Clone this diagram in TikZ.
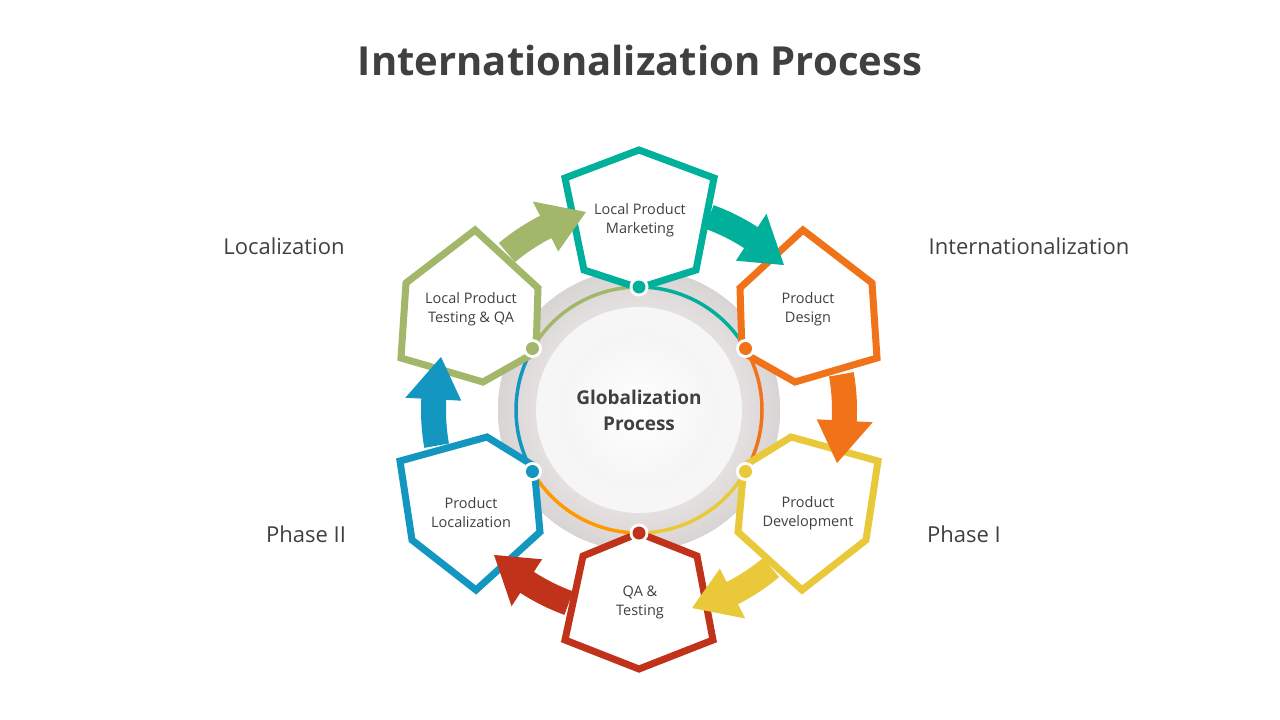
\documentclass[tikz,border=0pt]{standalone}
\usepackage{fontspec}
\setmainfont{Open Sans}
\usetikzlibrary{calc}
\definecolor{cteal}{HTML}{00B09B}
\definecolor{corange}{HTML}{F07319}
\definecolor{cyellow}{HTML}{E9C93A}
\definecolor{cred}{HTML}{C0321A}
\definecolor{cblue}{HTML}{1396BF}
\definecolor{cgreen}{HTML}{A2B76A}
\definecolor{carc}{HTML}{FF9900}
\definecolor{ctext}{HTML}{404040}
\definecolor{cdisk}{HTML}{D3CDCD}
\newcommand\cyclearrow[3]{%
  \fill[#1] (#2:193) arc[start angle=#2,end angle=#3-12,radius=193] -- (#3-12:178) -- (#3:205) -- (#3-12:234) -- (#3-12:218) arc[start angle=#3-12,end angle=#2,radius=218] -- cycle;}
\begin{document}
\begin{tikzpicture}[x=1pt,y=-1pt,
  hexa/.style={line width=7pt,line join=miter},
  lbl/.style={text=ctext,font=\fontsize{14.5}{19}\selectfont,align=center},
  side/.style={text=ctext,font=\fontsize{22}{26}\selectfont}]
\useasboundingbox (0,0) rectangle (1280,720);
\node[font=\bfseries\fontsize{40}{46}\selectfont,text=ctext] (title) at (640,60) {Internationalization Process};
% centre
\coordinate (C) at (639,410);
\fill[cdisk] (C) circle (141);
\shade[inner color=white,outer color=cdisk!85] (C) circle (141);
\fill[white!93!gray] (C) circle (103);
\shade[inner color=white,outer color=white!92!gray] (C) circle (78);
\begin{scope}[shift={(639,410)},line width=3.5pt]
\draw[cteal] (-90:123) arc[start angle=-90,end angle=-30,radius=123];
\draw[corange] (-30:123) arc[start angle=-30,end angle=30,radius=123];
\draw[cyellow] (30:123) arc[start angle=30,end angle=90,radius=123];
\draw[carc] (90:123) arc[start angle=90,end angle=150,radius=123];
\draw[cblue] (150:123) arc[start angle=150,end angle=210,radius=123];
\draw[cgreen] (210:123) arc[start angle=210,end angle=270,radius=123];
\end{scope}
% hexagons
\filldraw[hexa,draw=cteal,fill=white] (639,150)--(714,178)--(696,270)--(639,288)--(584,270)--(565,178)--cycle;
\filldraw[hexa,draw=corange,fill=white] (803,230)--(872,283)--(877,358)--(795,382)--(742,352)--(740,288)--cycle;
\filldraw[hexa,draw=cgreen,fill=white] (475,230)--(538,288)--(536,352)--(483,382)--(401,358)--(406,283)--cycle;
\filldraw[hexa,draw=cblue,fill=white] (487,437)--(534,466)--(540,532)--(476,590)--(412,540)--(400,461)--cycle;
\filldraw[hexa,draw=cyellow,fill=white] (791,437)--(744,466)--(738,532)--(802,590)--(866,540)--(878,461)--cycle;
\filldraw[hexa,draw=cred,fill=white] (639,533)--(697,556)--(713,640)--(639,669)--(565,640)--(583,556)--cycle;
% arrows
\begin{scope}[shift={(639,410)}]
\cyclearrow{cteal}{-70}{-45}
\cyclearrow{corange}{-10}{15}
\cyclearrow{cyellow}{50}{75}
\cyclearrow{cred}{110}{135}
\cyclearrow{cblue}{170}{195}
\cyclearrow{cgreen}{230}{255}
\end{scope}
% dots
\foreach \a/\col in {-90/cteal,-30/corange,30/cyellow,90/cred,150/cblue,210/cgreen}{
  \fill[white] ($(C)+(\a:123)$) circle (9.5);
  \fill[color=\col] ($(C)+(\a:123)$) circle (6.5);}
% labels
\node[font=\bfseries\fontsize{19}{26}\selectfont,text=ctext,align=center] (g) at (C) {Globalization\\Process};
\node[lbl] (n1) at (640,220) {Local Product\\Marketing};
\node[lbl] (n2) at (808,309) {Product\\Design};
\node[lbl] (n3) at (808,513) {Product\\Development};
\node[lbl] (n4) at (640,602) {QA \&\\Testing};
\node[lbl] (n5) at (471,513) {Product\\Localization};
\node[lbl] (n6) at (471,309) {Local Product\\Testing \& QA};
\node[side] (s1) at (284,246) {Localization};
\node[side] (s2) at (1029,246) {Internationalization};
\node[side] (s3) at (306,534) {Phase II};
\node[side] (s4) at (964,534) {Phase I};
\end{tikzpicture}
\end{document}
